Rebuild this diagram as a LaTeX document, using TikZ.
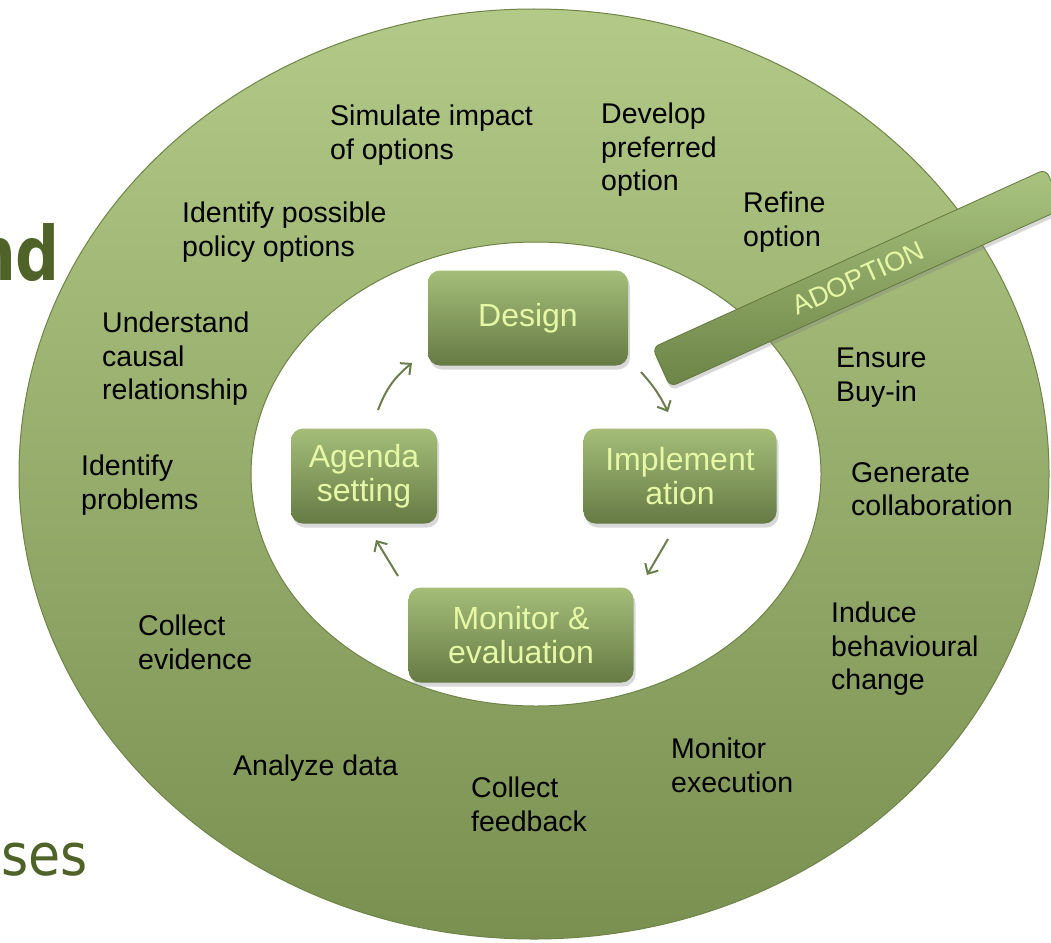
\documentclass[tikz,border=0pt]{standalone}
\usepackage{fontspec}
\setmainfont{Liberation Sans}
\newfontfamily\titlefont{DejaVu Sans}
\usetikzlibrary{arrows.meta,shadows}
\definecolor{ringtop}{HTML}{B2C987}
\definecolor{ringbot}{HTML}{7A9051}
\definecolor{ringline}{HTML}{6F8548}
\definecolor{boxtop}{HTML}{A4BE79}
\definecolor{boxbot}{HTML}{667A44}
\definecolor{boxtext}{HTML}{E6F8A6}
\definecolor{bartop}{HTML}{AAC480}
\definecolor{barbot}{HTML}{6C8446}
\definecolor{barline}{HTML}{62783F}
\definecolor{titlegreen}{HTML}{4F6228}
\definecolor{arrowc}{HTML}{6B7E4D}
\begin{document}
\begin{tikzpicture}[x=1pt,y=-1pt,
  stagebox/.style={rectangle, rounded corners=12pt, minimum height=95pt,
    top color=boxtop, bottom color=boxbot, text=boxtext, align=center,
    font=\fontsize{32}{34.5}\selectfont,
    drop shadow={opacity=0.3, shadow xshift=2pt, shadow yshift=-4pt}},
  barbox/.style={rectangle, rounded corners=7pt, draw=barline, line width=0.8pt,
    top color=bartop, bottom color=barbot, text=boxtext,
    font=\fontsize{27}{30}\selectfont,
    drop shadow={opacity=0.3, shadow xshift=1pt, shadow yshift=-4pt}},
  lab/.style={anchor=north west, inner sep=0pt, align=left, text=black,
    font=\fontsize{28.5}{33.5}\selectfont},
  flow/.style={draw=arrowc, line width=2pt,
    -{Straight Barb[length=8pt,width=15pt,line width=2pt]}},
  title/.style={inner sep=0pt, text=titlegreen}
]
\useasboundingbox (0,0) rectangle (1051,942);
\fill[white] (0,0) rectangle (1051,942);

% side titles (cut by the page edge)
\node[title, anchor=base east, xscale=0.82, font=\titlefont\bfseries\fontsize{75}{80}\selectfont] (t1) at (60,280) {nd};
\node[title, anchor=base west, xscale=0.9, font=\titlefont\fontsize{58}{62}\selectfont] (t2) at (1,875) {ses};

% ring
\shade[top color=ringtop, bottom color=ringbot, even odd rule]
  (534,474) ellipse (515 and 465) (536,474) ellipse (285 and 232);
\draw[ringline, line width=1pt] (534,474) ellipse (515 and 465);
\draw[ringline, line width=1pt] (536,474) ellipse (285 and 232);

% outer labels
\node[lab] (l1) at (330,105) {Simulate impact\\of options};
\node[lab] (l2) at (601,103) {Develop\\preferred\\option};
\node[lab] (l3) at (743,192) {Refine\\option};
\node[lab] (l4) at (182,202) {Identify possible\\policy options};
\node[lab] (l5) at (102,312) {Understand\\causal\\relationship};
\node[lab] (l6) at (81,455) {Identify\\problems};
\node[lab] (l7) at (836,348) {Ensure\\Buy-in};
\node[lab] (l8) at (851,462) {Generate\\collaboration};
\node[lab] (l9) at (831,602) {Induce\\behavioural\\change};
\node[lab] (l10) at (138,615) {Collect\\evidence};
\node[lab] (l11) at (233,755) {Analyze data};
\node[lab] (l12) at (471,777) {Collect\\feedback};
\node[lab] (l13) at (671,738) {Monitor\\execution};

% stages
\node[stagebox, minimum width=200pt] (design) at (528,318) {Design};
\node[stagebox, minimum width=146pt] (agenda) at (364,476) {Agenda\\setting};
\node[stagebox, minimum width=193pt] (impl) at (680,476) {Implement\\ation};
\node[stagebox, minimum width=225pt] (monitor) at (521,635) {Monitor \&\\evaluation};

% cycle arrows
\coordinate (p1) at (378,410); \coordinate (q1) at (412,363);
\coordinate (p2) at (641,372); \coordinate (q2) at (668,412);
\coordinate (p3) at (668,539); \coordinate (q3) at (647,575);
\coordinate (p4) at (398,576); \coordinate (q4) at (376,540);
\draw[flow] (p1) to[bend left=15] (q1);
\draw[flow] (p2) to[bend left=8] (q2);
\draw[flow] (p3) -- (q3);
\draw[flow] (p4) -- (q4);

% adoption bar
\node[barbox, rotate=24.4, minimum width=432pt, minimum height=43pt] (adopt) at (858,278) {ADOPTION};
\end{tikzpicture}
\end{document}
